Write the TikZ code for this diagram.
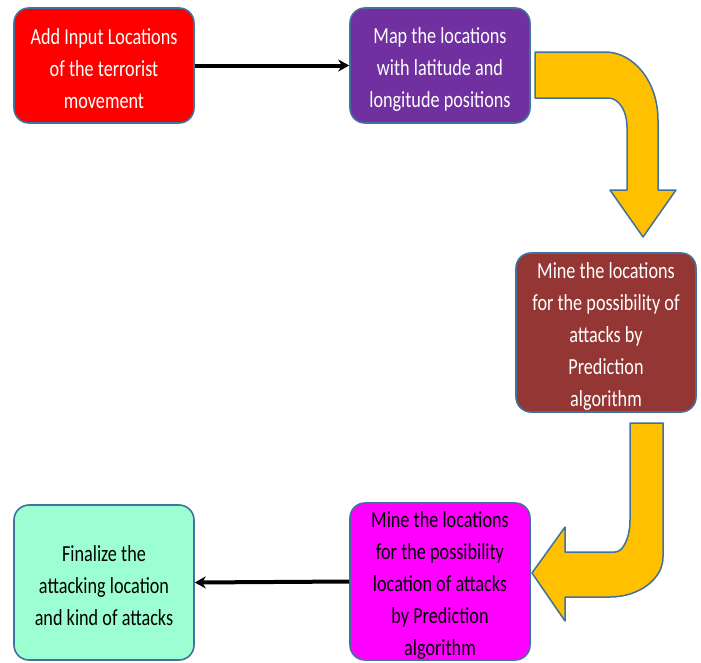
\documentclass[tikz,border=0pt]{standalone}
\usepackage{fontspec}
\setmainfont[FakeStretch=0.79]{Carlito}
\usepackage{tikz}
\usetikzlibrary{arrows.meta}
\definecolor{edgex}{HTML}{41719C}
\definecolor{redbox}{HTML}{FF0000}
\definecolor{purplebox}{HTML}{7030A0}
\definecolor{brownbox}{HTML}{943634}
\definecolor{pinkbox}{HTML}{FF00FF}
\definecolor{mintbox}{HTML}{9CFFD2}
\definecolor{goldx}{HTML}{FFC000}
\tikzset{
  box/.style={draw=edgex,line width=1.6pt,rounded corners=15pt,align=center,
    minimum width=180pt,text width=172pt,inner sep=0pt,
    execute at begin node={\spaceskip=4.2pt\relax\rule{0pt}{23pt}},
    font=\fontsize{23}{32}\selectfont},
  ar/.style={-{Stealth[length=11pt,width=12pt]},line width=4pt,black},
  bentarrow/.style={draw=edgex,line width=1.5pt,fill=goldx,line join=round}
}
\begin{document}
\begin{tikzpicture}[x=1pt,y=-1pt]
\useasboundingbox (0,0) rectangle (701,662);
\node[box,fill=redbox,text=white,minimum height=115pt] (add) at (104,65.5) {Add Input Locations\\of the terrorist\\movement};
\node[box,fill=purplebox,text=white,minimum height=115pt] (map) at (440,65.5) {Map the locations\\with latitude and\\longitude positions};
\node[box,fill=brownbox,text=white,minimum height=159pt] (mine) at (606,332.5) {Mine the locations\\for the possibility of\\attacks by\\Prediction\\algorithm};
\node[box,fill=pinkbox,text=black,minimum height=157pt] (pred) at (440,581.5) {Mine the locations\\for the possibility\\location of attacks\\by Prediction\\algorithm};
\node[box,fill=mintbox,text=black,minimum height=155pt] (fin) at (104,582.5) {Finalize the\\attacking location\\and kind of attacks};
\draw[ar] (add.east) -- (map.west);
\draw[ar] (pred.west) -- (fin.east);
% bent arrows
\draw[bentarrow] (535,52) -- (605,52) .. controls (634,52) and (658,82) .. (658,120)
  -- (658,190) -- (676,190) -- (643,237) -- (610,190) -- (627,190) -- (627,127)
  .. controls (627,111) and (619,98) .. (608,98) -- (535,98) -- cycle;
\draw[bentarrow] (630,423) -- (663,423) -- (663,557) .. controls (663,579) and (639,597) .. (610,597)
  -- (565,597) -- (565,621) -- (532,573) -- (565,527) -- (565,552) -- (615,552)
  .. controls (623,552) and (630,538) .. (630,520) -- cycle;
\end{tikzpicture}
\end{document}
